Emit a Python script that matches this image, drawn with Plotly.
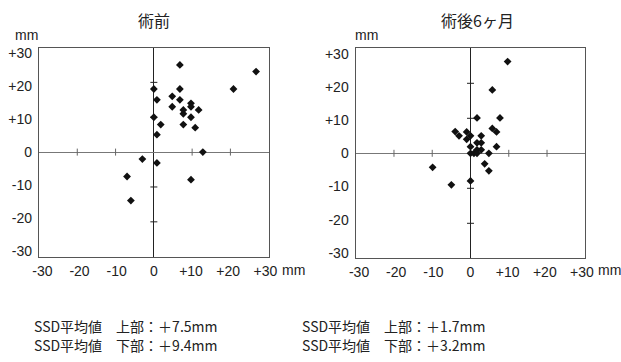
import plotly.graph_objects as go

# SSD displacement (mm): horizontal / vertical, before surgery
pre_x = [6.8, 26.7, 0.0, 6.8, 20.8, 0.8, 4.8, 6.8, 9.7, 9.7, 4.8, 7.7, 7.7, 11.7,
         9.7, 0.0, 1.8, 7.7, 10.8, 0.8, 12.8, -3.0, 0.8, -7.0, 9.7, -6.0]
pre_y = [25.0, 23.1, 18.1, 18.1, 18.1, 15.0, 16.0, 15.0, 14.0, 13.0, 13.0, 12.1, 11.0, 12.1,
         10.0, 10.0, 7.9, 7.9, 7.0, 5.0, 0.0, -2.0, -3.1, -7.0, -7.9, -13.9]

# 6 months after surgery
post_x = [9.7, 5.7, 1.7, 7.7, 5.7, 6.8, -4.0, -3.0, -1.0, -1.0, 0.0, 2.8, 1.7, 2.8,
          0.0, 6.8, 1.7, 2.8, 0.0, 0.9, 1.7, 4.8, 3.7, 4.8, -9.9, -5.0, 0.0]
post_y = [26.2, 18.1, 10.1, 10.1, 7.1, 6.1, 6.2, 5.0, 6.1, 4.0, 5.0, 5.0, 3.0, 3.0,
          1.9, 1.9, 1.0, 1.0, 0.0, 0.0, 0.0, 0.0, -3.0, -5.0, -4.0, -9.0, -7.9]

titles = ["術前", "術後6ヶ月"]
tick_vals = [-30, -20, -10, 0, 10, 20, 30]
tick_text = ["-30", "-20", "-10", "0", "+10", "+20", "+30"]
axis_ticks = [-20, -10, 10, 20]
summary = [
    ["SSD平均値　上部：＋7.5mm", "SSD平均値　下部：＋9.4mm"],
    ["SSD平均値　上部：＋1.7mm", "SSD平均値　下部：＋3.2mm"],
]

W, H = 621, 362
LATIN = "Liberation Sans, Arial, sans-serif"
CJK = "Noto Sans CJK JP, sans-serif"
TXT = "#222222"

fig = go.Figure()

panels = [
    dict(x=pre_x, y=pre_y, xdom=(39, 268.7), ydom=(47.5, 256.7),
         title_x=154, ymm_x=13),
    dict(x=post_x, y=post_y, xdom=(355.7, 585.3), ydom=(48.3, 258.3),
         title_x=477, ymm_x=352.7),
]

annotations = []
for i, p in enumerate(panels):
    xa, ya = f"x{i + 1}" if i else "x", f"y{i + 1}" if i else "y"
    lx, ly = f"x{i + 3}", f"y{i + 3}"          # label-only overlay axes

    # small tick marks drawn on the crossing centre axes
    fig.add_trace(go.Scatter(
        x=axis_ticks, y=[0] * len(axis_ticks), mode="markers",
        marker=dict(symbol="line-ns", size=5, line=dict(width=1, color="#666666")),
        xaxis=xa, yaxis=ya, hoverinfo="skip", showlegend=False))
    fig.add_trace(go.Scatter(
        x=[0] * len(axis_ticks), y=axis_ticks, mode="markers",
        marker=dict(symbol="line-ew", size=5, line=dict(width=1, color="#222222")),
        xaxis=xa, yaxis=ya, hoverinfo="skip", showlegend=False))
    # data points
    fig.add_trace(go.Scatter(
        x=p["x"], y=p["y"], mode="markers",
        marker=dict(symbol="diamond", size=6, color="#111111"),
        xaxis=xa, yaxis=ya, showlegend=False))
    # invisible trace so the label axes get drawn
    fig.add_trace(go.Scatter(
        x=[0], y=[0], mode="markers", marker=dict(opacity=0),
        xaxis=lx, yaxis=ly, hoverinfo="skip", showlegend=False))

    base = dict(range=[-30, 30], showgrid=False, zeroline=True, automargin=False,
                showline=True, mirror=True, linecolor="#555555", linewidth=1,
                showticklabels=False, ticks="", fixedrange=True)
    fig.layout["xaxis" + xa[1:]] = dict(
        base, domain=[p["xdom"][0] / W, p["xdom"][1] / W],
        anchor=ya, zerolinecolor="#222222", zerolinewidth=1.2)
    fig.layout["yaxis" + ya[1:]] = dict(
        base, domain=[1 - p["ydom"][1] / H, 1 - p["ydom"][0] / H],
        anchor=xa, zerolinecolor="#777777", zerolinewidth=1.2)

    # tick labels sit on a slightly wider scale than the data frame
    lab = dict(showgrid=False, zeroline=False, showline=False, automargin=False,
               tickvals=tick_vals, ticktext=tick_text, ticks="", fixedrange=True,
               tickfont=dict(family=LATIN, size=14, color=TXT))
    fig.layout["xaxis" + lx[1:]] = dict(lab, overlaying=xa, anchor=ya, side="bottom",
                                        range=[-30.9, 30.9], ticklabelstandoff=4)
    fig.layout["yaxis" + ly[1:]] = dict(lab, overlaying=ya, anchor=xa, side="left",
                                        range=[-31.6, 31.6], ticklabelstandoff=6)

    # panel title
    annotations.append(dict(text=titles[i], x=p["title_x"] / W, y=1 - 20 / H,
                            xref="paper", yref="paper", showarrow=False,
                            xanchor="center", yanchor="middle",
                            font=dict(family=CJK, size=16, color=TXT)))
    # unit labels
    annotations.append(dict(text="mm", x=p["ymm_x"] / W, y=1 - 35 / H,
                            xref="paper", yref="paper", showarrow=False,
                            xanchor="left", yanchor="middle",
                            font=dict(family=LATIN, size=14, color=TXT)))
    annotations.append(dict(text="mm", x=(p["xdom"][1] + 11) / W, y=1 - 270 / H,
                            xref="paper", yref="paper", showarrow=False,
                            xanchor="left", yanchor="middle",
                            font=dict(family=LATIN, size=14, color=TXT)))
    # summary lines below the panel
    left = 31.7 if i == 0 else 300
    for j, line in enumerate(summary[i]):
        annotations.append(dict(text=line, x=left / W, y=1 - (326 + 19 * j) / H,
                                xref="paper", yref="paper", showarrow=False,
                                xanchor="left", yanchor="middle",
                                font=dict(family=CJK, size=14, color=TXT)))

fig.update_layout(
    template="none",
    width=W, height=H,
    margin=dict(l=0, r=0, t=0, b=0, autoexpand=False),
    paper_bgcolor="white", plot_bgcolor="white",
    annotations=annotations,
)

fig.write_html("out.html")
